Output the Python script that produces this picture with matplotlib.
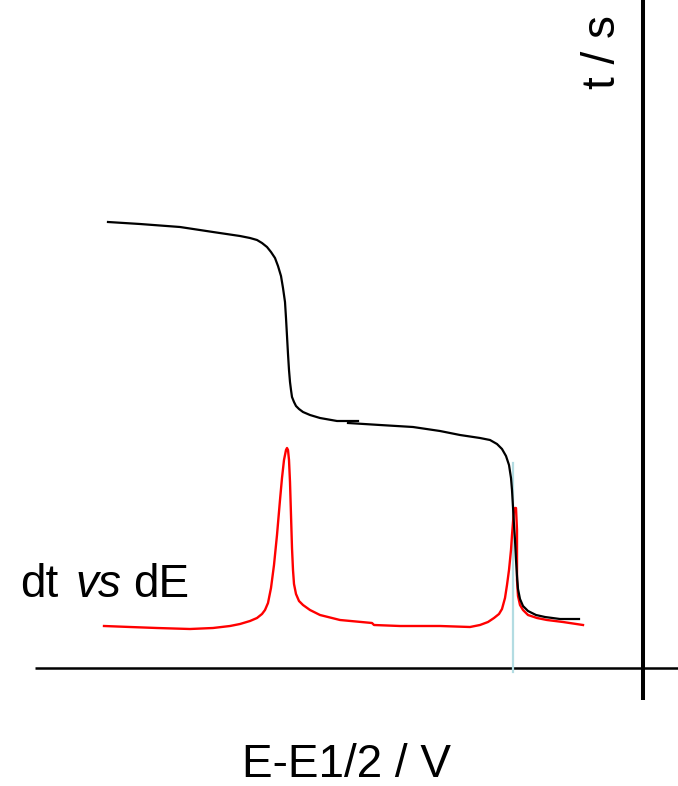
import matplotlib
matplotlib.use("Agg")
import matplotlib.pyplot as plt

plt.rcParams['font.family'] = ['Liberation Sans', 'DejaVu Sans']

# potential (E - E1/2, V) and transition time (t, s)
# first wave of the chronopotentiogram
E_wave1 = [-0.405, -0.373, -0.333, -0.300, -0.273, -0.263, -0.256, -0.251,
           -0.246, -0.242, -0.238, -0.235, -0.232, -0.230, -0.228, -0.227,
           -0.226, -0.225, -0.224, -0.223, -0.222, -0.221, -0.219, -0.217,
           -0.214, -0.210, -0.203, -0.193, -0.176, -0.155]
t_wave1 = [44.6, 44.4, 44.1, 43.6, 43.2, 43.0, 42.8, 42.5,
           42.1, 41.6, 41.0, 40.2, 39.2, 38.0, 36.6, 35.0,
           33.2, 31.4, 29.8, 28.6, 27.8, 27.1, 26.6, 26.2,
           25.9, 25.6, 25.3, 25.0, 24.7, 24.7]

# second wave
E_wave2 = [-0.165, -0.133, -0.100, -0.073, -0.053, -0.033, -0.023, -0.016,
           -0.011, -0.007, -0.004, -0.002, -0.001, 0.000, 0.001, 0.002,
           0.003, 0.004, 0.005, 0.007, 0.010, 0.015, 0.023, 0.032, 0.047,
           0.066]
t_wave2 = [24.5, 24.3, 24.1, 23.7, 23.3, 23.0, 22.8, 22.4,
           21.9, 21.2, 20.3, 19.0, 17.8, 16.1, 14.3, 12.8,
           10.8, 9.2, 7.9, 6.9, 6.2, 5.7, 5.3, 5.1, 4.9,
           4.9]

# derivative dt/dE (arbitrary scale)
E_deriv = [-0.409, -0.383, -0.356, -0.323, -0.300, -0.283, -0.273, -0.263,
           -0.256, -0.251, -0.248, -0.245, -0.242, -0.239, -0.236, -0.233,
           -0.231, -0.229, -0.227, -0.226, -0.225, -0.224, -0.223, -0.222,
           -0.221, -0.220, -0.219, -0.217, -0.214, -0.210, -0.203, -0.193,
           -0.173, -0.141, -0.139, -0.113, -0.073, -0.043, -0.033, -0.025,
           -0.019, -0.014, -0.011, -0.008, -0.006, -0.004, -0.002, -0.001,
           0.001, 0.002, 0.003, 0.004, 0.004, 0.005, 0.007, 0.010,
           0.015, 0.024, 0.034, 0.050, 0.070]
dtdE = [4.2, 4.1, 4.0, 3.9, 4.0, 4.2, 4.4, 4.7,
        5.0, 5.4, 5.8, 6.5, 8.0, 10.3, 13.3, 16.8,
        19.0, 20.8, 21.8, 22.0, 21.8, 20.8, 18.6, 15.3,
        12.0, 9.8, 8.4, 7.4, 6.7, 6.3, 5.8, 5.3,
        4.8, 4.5, 4.3, 4.2, 4.2, 4.1, 4.3, 4.6,
        5.0, 5.4, 5.9, 7.0, 8.3, 9.8, 11.8, 13.3,
        15.8, 16.0, 16.0, 13.8, 8.8, 7.2, 6.3, 5.8,
        5.3, 5.0, 4.8, 4.6, 4.3]

# marker at E1/2 of second wave
E_mark = 0.0
t_mark = [-0.4, 20.5]

fig = plt.figure(figsize=(6.78, 7.86), dpi=100)
ax = fig.add_axes([0, 0, 1, 1])
ax.set_xlim(-0.513, 0.165)
ax.set_ylim(-11.8, 66.8)
ax.axis("off")

# hand-drawn style axes
ax.plot([-0.478, 0.165], [0, 0], color="black", lw=1.8, solid_capstyle="butt")
ax.plot([0.130, 0.130], [-3.2, 66.8], color="black", lw=2.9, solid_capstyle="butt")

ax.plot([E_mark, E_mark], t_mark, color="#b3dce2", lw=1.6)
ax.plot(E_deriv, dtdE, color="#ff0000", lw=1.7)
ax.plot(E_wave1, t_wave1, color="black", lw=1.6)
ax.plot(E_wave2, t_wave2, color="black", lw=1.6)

fs = 33
ax.text(-0.493, 7.1, "dt", fontsize=fs, va="baseline", ha="left")
ax.text(-0.438, 7.1, "vs", fontsize=fs, va="baseline", ha="left", style="italic")
ax.text(-0.380, 7.1, "dE", fontsize=fs, va="baseline", ha="left")
ax.text(-0.166, -10.9, "E-E1/2 / V", fontsize=fs, va="baseline", ha="center")
ax.text(0.090, 61.6, "t / s", fontsize=fs, va="center", ha="center", rotation=90)

fig.savefig("out.png", dpi=100)
